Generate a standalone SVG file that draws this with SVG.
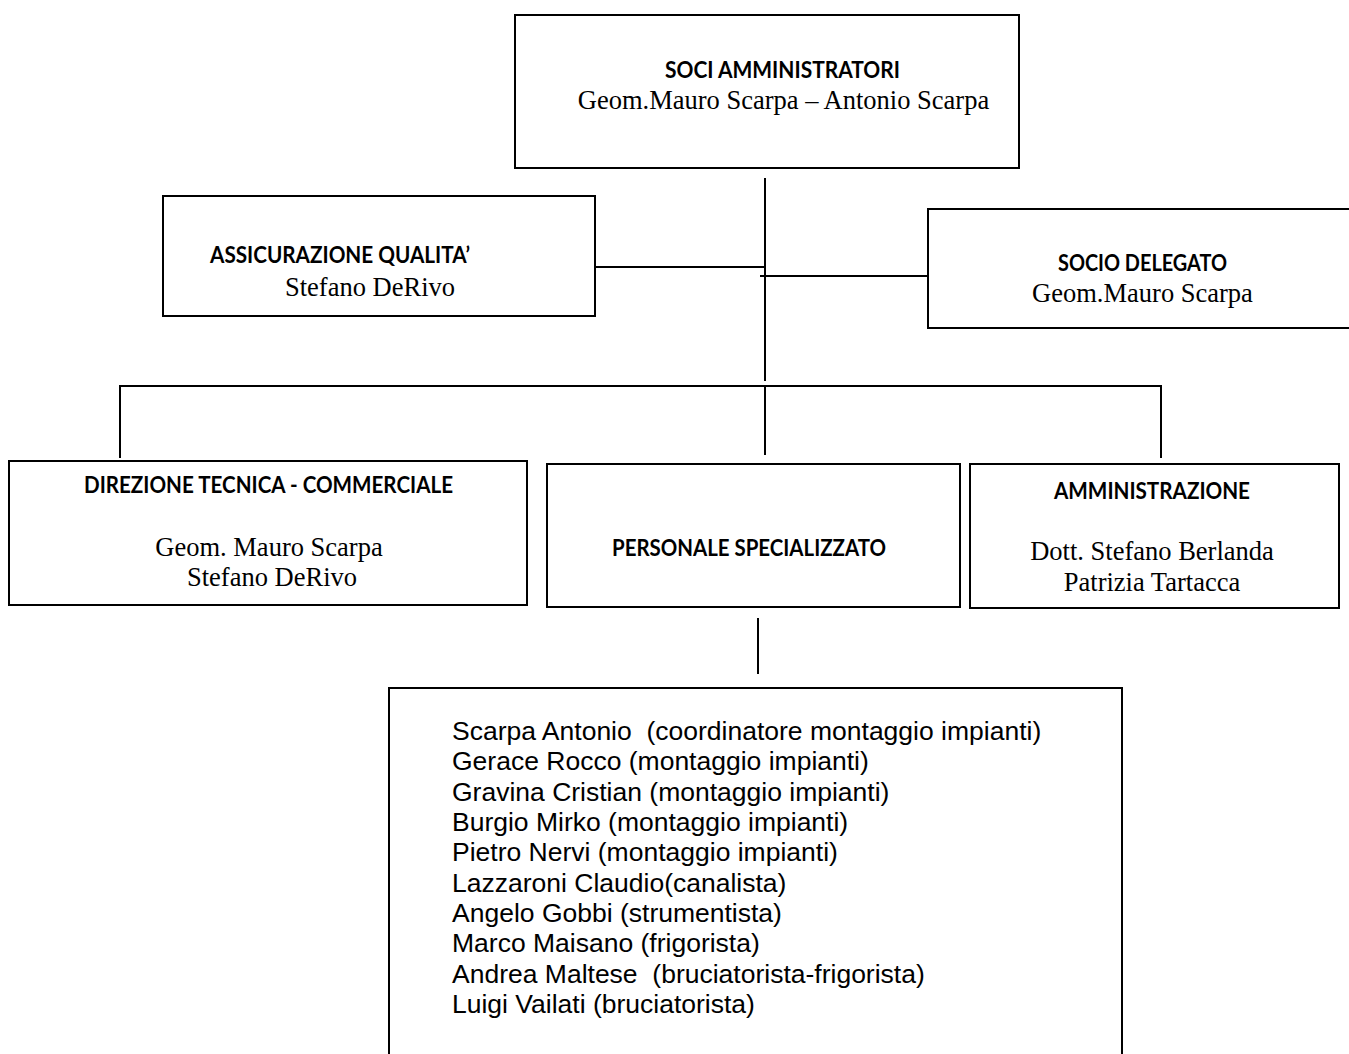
<svg xmlns="http://www.w3.org/2000/svg" width="1349" height="1054" viewBox="0 0 1349 1054">
<style>
.box{fill:#fff;stroke:#000;stroke-width:2}
.ln{stroke:#000;stroke-width:2;fill:none}
.h{font-family:Lato,"Open Sans","Liberation Sans",sans-serif;font-weight:bold;font-size:23px;fill:#000}
.s{font-family:"Liberation Serif","Times New Roman",serif;font-size:26.5px;fill:#000}
.a{font-family:"Liberation Sans",Arial,sans-serif;font-size:26.5px;fill:#000}
</style>
<rect width="1349" height="1054" fill="#fff"/>
<g id="connectors">
<line class="ln" x1="765" y1="178" x2="765" y2="381"/>
<line class="ln" x1="595" y1="267" x2="765" y2="267"/>
<line class="ln" x1="760" y1="276" x2="928" y2="276"/>
<line class="ln" x1="119" y1="386" x2="1162" y2="386"/>
<line class="ln" x1="120" y1="386" x2="120" y2="458"/>
<line class="ln" x1="765" y1="386" x2="765" y2="455"/>
<line class="ln" x1="1161" y1="386" x2="1161" y2="458"/>
<line class="ln" x1="758" y1="618" x2="758" y2="674"/>
</g>
<g id="soci-amministratori">
<rect class="box" x="515" y="15" width="504" height="153"/>
<text class="h" x="782.5" y="78" text-anchor="middle" textLength="235" lengthAdjust="spacingAndGlyphs">SOCI AMMINISTRATORI</text>
<text class="s" x="783.5" y="109" text-anchor="middle">Geom.Mauro Scarpa – Antonio Scarpa</text>
</g>
<g id="assicurazione-qualita">
<rect class="box" x="163" y="196" width="432" height="120"/>
<text class="h" x="210" y="263" textLength="260" lengthAdjust="spacingAndGlyphs">ASSICURAZIONE QUALITA’</text>
<text class="s" x="370" y="296" text-anchor="middle">Stefano DeRivo</text>
</g>
<g id="socio-delegato">
<rect class="box" x="928" y="209" width="430" height="119"/>
<text class="h" x="1142.5" y="271" text-anchor="middle" textLength="169" lengthAdjust="spacingAndGlyphs">SOCIO DELEGATO</text>
<text class="s" x="1142.5" y="302" text-anchor="middle">Geom.Mauro Scarpa</text>
</g>
<g id="direzione-tecnica">
<rect class="box" x="9" y="461" width="518" height="144"/>
<text class="h" x="268.5" y="493" text-anchor="middle" textLength="369" lengthAdjust="spacingAndGlyphs">DIREZIONE TECNICA - COMMERCIALE</text>
<text class="s" x="269" y="556" text-anchor="middle">Geom. Mauro Scarpa</text>
<text class="s" x="272" y="586" text-anchor="middle">Stefano DeRivo</text>
</g>
<g id="personale-specializzato">
<rect class="box" x="547" y="464" width="413" height="143"/>
<text class="h" x="749" y="556" text-anchor="middle" textLength="274" lengthAdjust="spacingAndGlyphs">PERSONALE SPECIALIZZATO</text>
</g>
<g id="amministrazione">
<rect class="box" x="970" y="464" width="369" height="144"/>
<text class="h" x="1152" y="499" text-anchor="middle" textLength="196" lengthAdjust="spacingAndGlyphs">AMMINISTRAZIONE</text>
<text class="s" x="1152" y="560" text-anchor="middle">Dott. Stefano Berlanda</text>
<text class="s" x="1152" y="591" text-anchor="middle">Patrizia Tartacca</text>
</g>
<g id="elenco-personale">
<rect class="box" x="389" y="688" width="733" height="380"/>
<text class="a" x="452" y="740" xml:space="preserve">Scarpa Antonio  (coordinatore montaggio impianti)</text>
<text class="a" x="452" y="770.3">Gerace Rocco (montaggio impianti)</text>
<text class="a" x="452" y="800.7">Gravina Cristian (montaggio impianti)</text>
<text class="a" x="452" y="831">Burgio Mirko (montaggio impianti)</text>
<text class="a" x="452" y="861.3">Pietro Nervi (montaggio impianti)</text>
<text class="a" x="452" y="891.7">Lazzaroni Claudio(canalista)</text>
<text class="a" x="452" y="922">Angelo Gobbi (strumentista)</text>
<text class="a" x="452" y="952.3">Marco Maisano (frigorista)</text>
<text class="a" x="452" y="982.7" xml:space="preserve">Andrea Maltese  (bruciatorista-frigorista)</text>
<text class="a" x="452" y="1013">Luigi Vailati (bruciatorista)</text>
</g>
</svg>
